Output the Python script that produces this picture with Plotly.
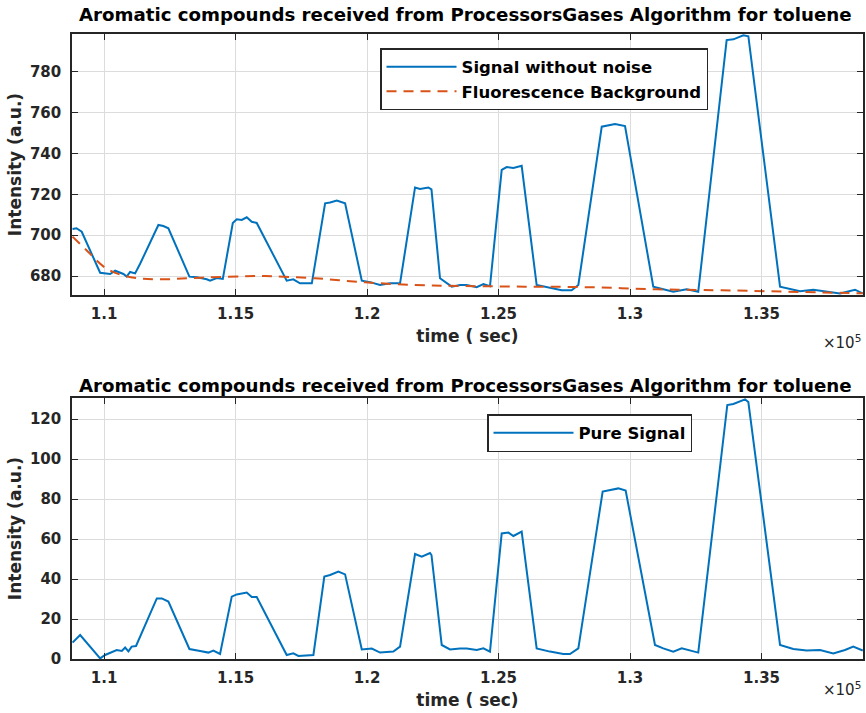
import plotly.graph_objects as go

# ---------------- data ----------------
t_sig = [108800, 108950, 109150, 109850, 110230, 110420, 110735, 110860, 110990, 111180,
         111370, 112065, 112255, 112445, 113245, 113525, 113905, 114030, 114285, 114515,
         114895, 115045, 115235, 115425, 115615, 115805, 116945, 117195, 117450, 117900,
         118405, 118595, 118850, 119165, 119800, 120115, 120495, 120875, 121255, 121825,
         122015, 122330, 122450, 122775, 123220, 123535, 123790, 124170, 124425, 124675,
         125120, 125310, 125565, 125880, 126450, 126830, 127400, 127780, 128035, 128925,
         129175, 129430, 129810, 130885, 131265, 131645, 132155, 132595, 133675, 133930,
         134310, 134500, 135705, 136020, 136465, 136970, 137605, 137985, 138555, 138850]
signal = [703.0, 703.4, 701.7, 681.6, 681.0, 682.6, 681.0, 679.7, 682.0, 681.3,
          686.0, 705.0, 704.5, 703.4, 679.7, 679.4, 678.4, 677.7, 679.0, 678.6,
          706.0, 707.8, 707.5, 708.8, 706.6, 706.0, 677.7, 678.4, 676.4, 676.4,
          715.6, 716.0, 717.0, 715.6, 677.7, 677.0, 675.6, 676.4, 676.4, 723.4,
          722.7, 723.4, 722.5, 678.9, 674.8, 675.6, 675.6, 674.5, 676.0, 675.0,
          732.0, 733.4, 733.0, 734.0, 675.6, 674.5, 673.0, 673.0, 675.6, 753.2,
          754.0, 754.5, 753.5, 674.8, 673.5, 672.3, 673.5, 672.3, 795.6, 796.0,
          798.0, 797.5, 674.8, 674.0, 672.6, 673.3, 672.3, 671.5, 673.3, 671.5]

t_bg = [108800, 109390, 110025, 110660, 111295, 112180, 113700, 115730, 116120, 118020,
        119925, 121825, 123600, 126000, 128500, 131015, 133500, 138850]
background = [699.3, 691.9, 684.2, 680.5, 678.9, 678.4, 679.2, 680.0, 680.0, 678.9,
              676.9, 675.6, 675.1, 674.8, 674.5, 673.5, 673.0, 671.5]

t_pure = [108800, 109090, 109850, 110040, 110480, 110675, 110800, 110925, 111050, 111215,
          112005, 112195, 112445, 113245, 113650, 113965, 114155, 114410, 114855, 115045,
          115425, 115615, 115805, 116945, 117195, 117390, 117960, 118375, 118595, 118910,
          119165, 119800, 120180, 120495, 121000, 121255, 121825, 122080, 122395, 122450,
          122840, 123155, 123535, 123790, 124170, 124425, 124675, 125120, 125375, 125565,
          125880, 126450, 126955, 127465, 127715, 128035, 128960, 129240, 129555, 129835,
          130950, 131265, 131645, 131965, 132595, 133700, 133930, 134375, 134500, 135705,
          136210, 136720, 137225, 137730, 138175, 138490, 138850]
pure = [8.2, 12.0, 0.3, 2.0, 4.5, 4.0, 5.7, 3.8, 6.2, 6.5,
        30.3, 30.3, 28.7, 5.0, 4.0, 3.2, 4.2, 2.5, 31.2, 32.3,
        33.2, 31.0, 31.0, 2.0, 2.8, 1.5, 2.0, 41.2, 42.0, 43.7,
        42.3, 4.8, 5.2, 3.2, 3.7, 6.2, 52.5, 51.2, 53.0, 52.0,
        7.0, 4.8, 5.2, 5.2, 4.5, 5.3, 3.7, 62.8, 63.2, 61.5,
        63.7, 5.3, 3.7, 2.5, 2.5, 5.3, 83.7, 84.5, 85.3, 84.2,
        7.0, 5.3, 3.7, 5.3, 3.2, 127.0, 127.5, 129.8, 128.5, 7.0,
        5.0, 4.2, 4.5, 2.8, 4.5, 6.2, 4.2]

x_tickvals = [110000, 115000, 120000, 125000, 130000, 135000]
x_ticktext = ["1.1", "1.15", "1.2", "1.25", "1.3", "1.35"]
y1_ticks = [680, 700, 720, 740, 760, 780]
y2_ticks = [0, 20, 40, 60, 80, 100, 120]

title_text = "Aromatic compounds received from ProcessorsGases Algorithm for toluene"

# ---------------- figure ----------------
W, H = 866, 713
FONT = "DejaVu Sans"
DARK = "#262626"
BLUE = "#0072BD"
ORANGE = "#D95319"

fig = go.Figure()
fig.add_trace(go.Scatter(x=t_sig, y=signal, mode="lines", name="<b>Signal without noise</b>",
                         line=dict(color=BLUE, width=2), xaxis="x", yaxis="y", legend="legend"))
fig.add_trace(go.Scatter(x=t_bg, y=background, mode="lines", name="<b>Fluorescence Background</b>",
                         line=dict(color=ORANGE, width=2, dash="10px,7px", shape="spline"),
                         xaxis="x", yaxis="y", legend="legend"))
fig.add_trace(go.Scatter(x=t_pure, y=pure, mode="lines", name="<b>Pure Signal</b>",
                         line=dict(color=BLUE, width=2), xaxis="x2", yaxis="y2", legend="legend2"))

xdom = [72 / W, 863 / W]
y1dom = [1 - 295 / H, 1 - 34 / H]
y2dom = [1 - 659 / H, 1 - 398 / H]

axis_common = dict(showline=True, linecolor=DARK, linewidth=1.5, mirror="ticks",
                   ticks="inside", ticklen=6, tickwidth=1.2, tickcolor=DARK,
                   showgrid=True, gridcolor="#dcdcdc", gridwidth=1, zeroline=False,
                   tickfont=dict(family=FONT, size=15, color=DARK), automargin=False)

xr = [108780, 138860]
fig.update_layout(
    width=W, height=H, margin=dict(l=0, r=0, t=0, b=0),
    paper_bgcolor="white", plot_bgcolor="white",
    font=dict(family=FONT, color=DARK),
    xaxis=dict(domain=xdom, range=xr, anchor="y", tickvals=x_tickvals,
               ticktext=["<b>%s</b>" % s for s in x_ticktext],
               title=dict(text="<b>time ( sec)</b>", font=dict(family=FONT, size=17, color=DARK), standoff=8),
               ticklabelstandoff=4, **axis_common),
    yaxis=dict(domain=y1dom, range=[670.7, 798.6], anchor="x", tickvals=y1_ticks,
               ticktext=["<b>%d</b>" % v for v in y1_ticks],
               title=dict(text="<b>Intensity (a.u.)</b>", font=dict(family=FONT, size=17, color=DARK), standoff=4),
               ticklabelstandoff=6, **axis_common),
    xaxis2=dict(domain=xdom, range=xr, anchor="y2", tickvals=x_tickvals,
                ticktext=["<b>%s</b>" % s for s in x_ticktext],
                title=dict(text="<b>time ( sec)</b>", font=dict(family=FONT, size=17, color=DARK), standoff=8),
                ticklabelstandoff=4, **axis_common),
    yaxis2=dict(domain=y2dom, range=[0, 130.5], anchor="x2", tickvals=y2_ticks,
                ticktext=["<b>%d</b>" % v for v in y2_ticks],
                title=dict(text="<b>Intensity (a.u.)</b>", font=dict(family=FONT, size=17, color=DARK), standoff=4),
                ticklabelstandoff=6, **axis_common),
    legend=dict(x=380 / W, y=1 - 48 / H, xanchor="left", yanchor="top",
                bgcolor="white", bordercolor=DARK, borderwidth=1.5,
                font=dict(family=FONT, size=16.5, color="black"), itemwidth=70,
                tracegroupgap=0),
    legend2=dict(x=487 / W, y=1 - 414 / H, xanchor="left", yanchor="top",
                 bgcolor="white", bordercolor=DARK, borderwidth=1.5,
                 font=dict(family=FONT, size=16.5, color="black"), itemwidth=80),
    showlegend=True,
)

ann_common = dict(xref="paper", yref="paper", showarrow=False)
fig.add_annotation(text="<b>%s</b>" % title_text, x=465 / W, y=1 - 15 / H,
                   xanchor="center", yanchor="middle",
                   font=dict(family=FONT, size=18.2, color="black"), **ann_common)
fig.add_annotation(text="<b>%s</b>" % title_text, x=465 / W, y=1 - 385 / H,
                   xanchor="center", yanchor="middle",
                   font=dict(family=FONT, size=18.2, color="black"), **ann_common)
fig.add_annotation(text="×10<sup>5</sup>", x=863 / W, y=1 - 342 / H,
                   xanchor="right", yanchor="middle",
                   font=dict(family=FONT, size=15, color=DARK), **ann_common)
fig.add_annotation(text="×10<sup>5</sup>", x=863 / W, y=1 - 689 / H,
                   xanchor="right", yanchor="middle",
                   font=dict(family=FONT, size=15, color=DARK), **ann_common)

fig.write_html("out.html")
